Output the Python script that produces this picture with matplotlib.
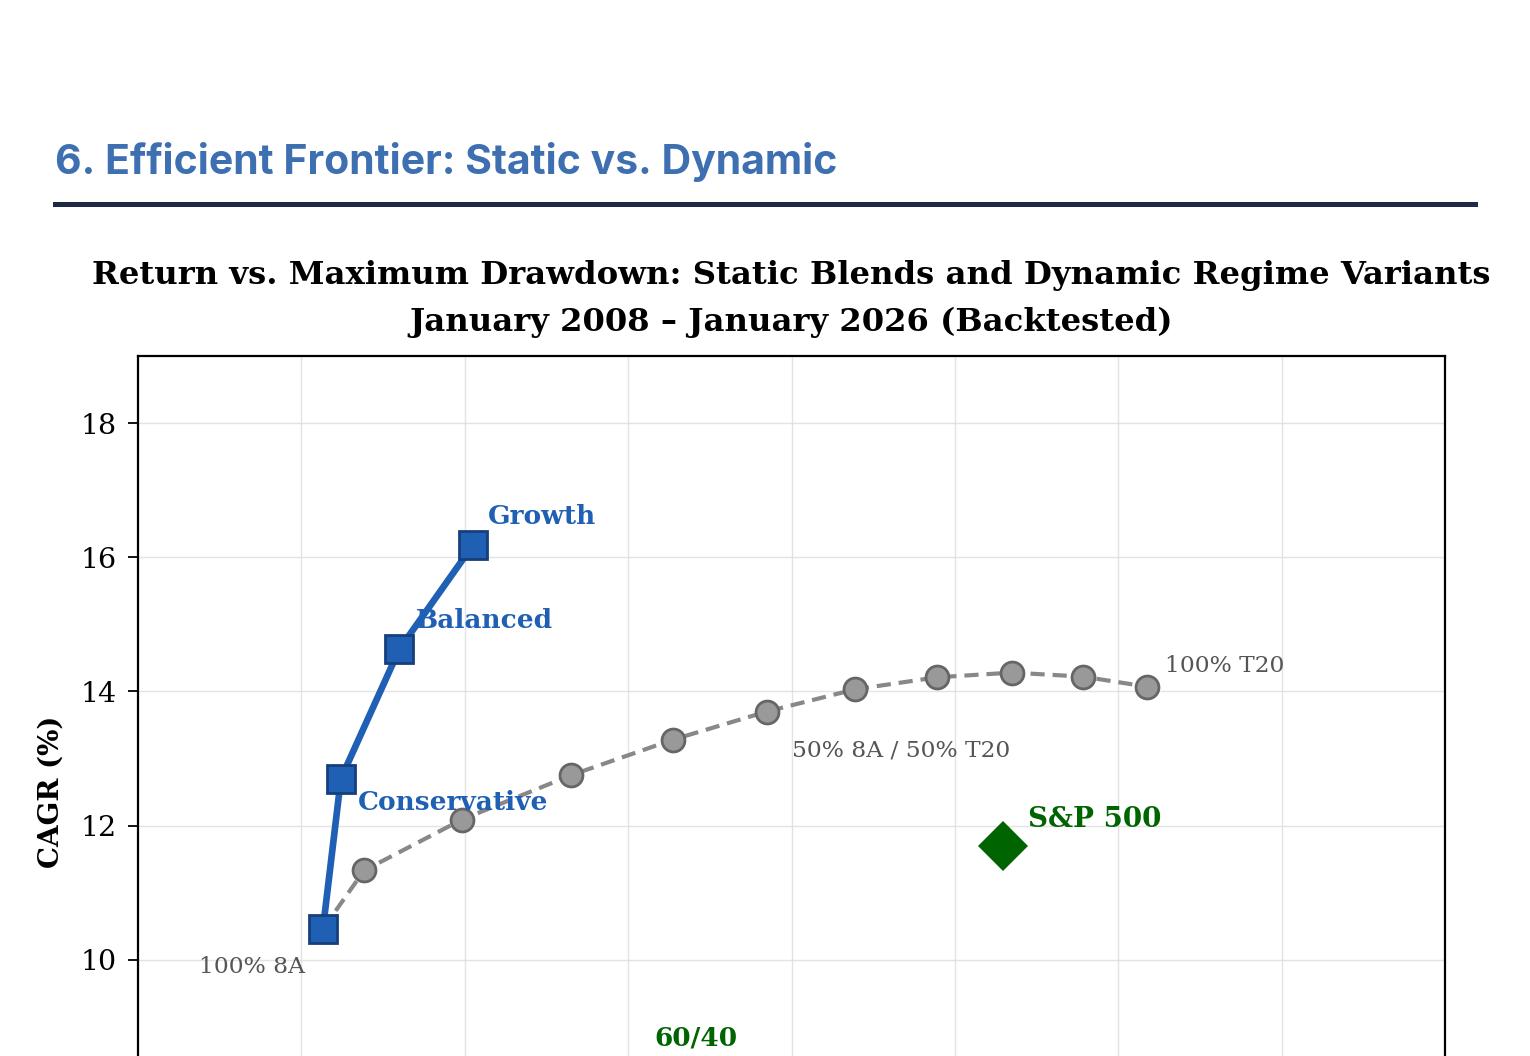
import matplotlib
matplotlib.use("Agg")
import matplotlib.pyplot as plt

# ---------------- data ----------------
static_labels = ["100% 8A", "90/10", "80/20", "70/30", "60/40", "50% 8A / 50% T20",
                 "40/60", "30/70", "20/80", "10/90", "100% T20"]
static_maxdd = [10.66, 11.92, 14.92, 18.25, 21.37, 24.25, 26.94, 29.45, 31.75, 33.92, 35.88]
static_cagr = [10.46, 11.33, 12.09, 12.75, 13.28, 13.70, 14.03, 14.21, 14.28, 14.22, 14.07]

dynamic_labels = ["", "Conservative", "Balanced", "Growth"]
dynamic_maxdd = [10.66, 11.21, 13.00, 15.25]
dynamic_cagr = [10.46, 12.70, 14.63, 16.18]

bench_labels = ["S&P 500", "60/40"]
bench_maxdd = [31.47, 22.08]
bench_cagr = [11.70, 8.00]

x_ticks = [10, 15, 20, 25, 30, 35, 40]
y_ticks = [10, 12, 14, 16, 18]

# ---------------- figure ----------------
W, H = 1530, 1056
fig = plt.figure(figsize=(W / 100, H / 100), dpi=100)
fig.patch.set_facecolor("white")

# page heading
fig.text(55 / W, 1 - 162 / H, "6. Efficient Frontier: Static vs. Dynamic",
         family=["Inter", "DejaVu Sans"], fontweight="bold", fontsize=29.5,
         color="#3d6fb1", ha="left", va="center")
fig.add_artist(plt.Line2D([55 / W, 1475 / W], [1 - 203.5 / H, 1 - 203.5 / H],
                          color="#1e2946", linewidth=3.6, transform=fig.transFigure))

ylo, yhi = 6, 19
px_per_unit = 67.0
ax_top = 356
ax_bottom = 424 + (18 - ylo) * px_per_unit
ax = fig.add_axes([138 / W, 1 - ax_bottom / H, (1445 - 138) / W, (ax_bottom - ax_top) / H])
ax.set_xlim(5, 45)
ax.set_ylim(ylo, yhi)
ax.set_xticks(x_ticks)
ax.set_yticks(y_ticks)
ax.grid(True, color="#dddddd", linewidth=1.0, alpha=0.8)
ax.set_axisbelow(True)
for s in ax.spines.values():
    s.set_linewidth(1.6)
    s.set_color("black")
ax.tick_params(axis="both", labelsize=20.5, length=7, width=1.3, pad=8)
ax.tick_params(axis="x", labelbottom=False)
for t in ax.get_yticklabels():
    t.set_family("DejaVu Serif")

ax.set_ylabel("CAGR (%)", family="DejaVu Serif", fontweight="bold", fontsize=20, labelpad=12)
ax.set_title("Return vs. Maximum Drawdown: Static Blends and Dynamic Regime Variants\n"
             "January 2008 \u2013 January 2026 (Backtested)",
             family="DejaVu Serif", fontweight="bold", fontsize=23.2, pad=18, linespacing=1.64)

# static frontier
ax.plot(static_maxdd, static_cagr, linestyle=(0, (3.4, 1.9)), color="#888888", linewidth=3.0,
        marker="o", markersize=16.5, markerfacecolor="#999999", markeredgecolor="#666666",
        markeredgewidth=2.0, zorder=3)

# dynamic variants
blue = "#1f5fb4"
ax.plot(dynamic_maxdd, dynamic_cagr, color=blue, linewidth=4.8, marker="s", markersize=20.5,
        markerfacecolor=blue, markeredgecolor="#173f7c", markeredgewidth=2.0, zorder=4)

# benchmarks
ax.plot(bench_maxdd, bench_cagr, linestyle="none", marker="D", markersize=25,
        color="#006400", markeredgewidth=0, zorder=5)

# labels
ann = dict(textcoords="offset pixels", family="DejaVu Serif", va="center", zorder=6)
gray_fs = 16.8
ax.annotate(static_labels[0], (static_maxdd[0], static_cagr[0]), xytext=(-18, -38),
            ha="right", fontsize=gray_fs, color="#555555", **ann)
ax.annotate(static_labels[5], (static_maxdd[5], static_cagr[5]), xytext=(25, -39),
            ha="left", fontsize=gray_fs, color="#555555", **ann)
ax.annotate(static_labels[10], (static_maxdd[10], static_cagr[10]), xytext=(18, 21),
            ha="left", fontsize=gray_fs, color="#555555", **ann)

dyn_off = {1: (17, -24), 2: (16, 29), 3: (15, 29)}
for i, off in dyn_off.items():
    ax.annotate(dynamic_labels[i], (dynamic_maxdd[i], dynamic_cagr[i]), xytext=off,
                ha="left", fontsize=19, fontweight="bold", color=blue, **ann)

ax.annotate(bench_labels[0], (bench_maxdd[0], bench_cagr[0]), xytext=(25, 26),
            ha="left", fontsize=20, fontweight="bold", color="#006400", **ann)
ax.annotate(bench_labels[1], (bench_maxdd[1], bench_cagr[1]), xytext=(0, 56),
            ha="center", fontsize=19, fontweight="bold", color="#006400", **ann)

fig.savefig("out.png", dpi=100, facecolor="white")
